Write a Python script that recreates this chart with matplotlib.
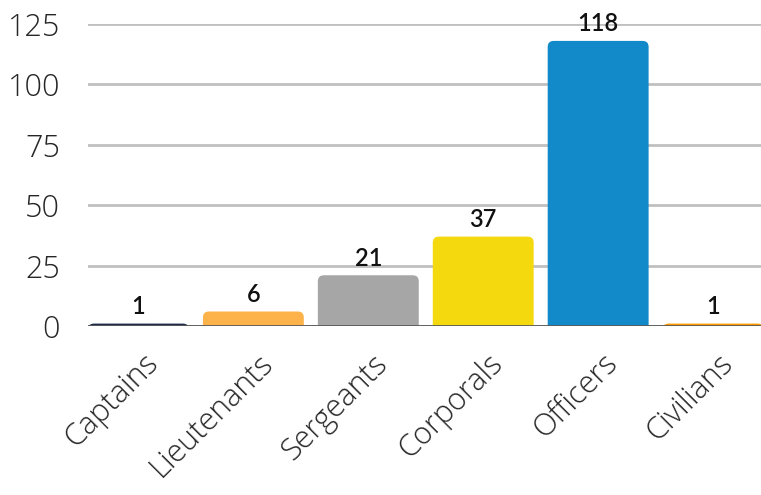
import matplotlib.pyplot as plt
import matplotlib.transforms as mtransforms
from matplotlib.patches import FancyBboxPatch
import numpy as np

categories = ["Captains", "Lieutenants", "Sergeants", "Corporals", "Officers", "Civilians"]
counts = [1, 6, 21, 37, 118, 1]
colors = ["#1f2d4a", "#fdb24a", "#a6a6a6", "#f5d90f", "#1289c9", "#ff9a00"]

fig = plt.figure(figsize=(7.61, 4.95), dpi=100)
ax = fig.add_axes([88 / 761, 1 - 326 / 495, 1 - 88 / 761, (326 - 24) / 495])

x = np.arange(len(categories))
bars = ax.bar(x, counts, width=0.878, color=colors, zorder=3)

ax.set_ylim(0, 125)
ax.set_xlim(-0.439, 5.417)

# swap the plain bars for ones with rounded tops
r_x = 6 / 115
r_y = 6 * 125 / 302
for rect, c in zip(bars, colors):
    rect.set_visible(False)
    p = FancyBboxPatch((rect.get_x(), -r_y * 2), rect.get_width(), rect.get_height() + r_y * 2,
                       boxstyle=f"round,pad=0,rounding_size={r_x}",
                       mutation_aspect=r_y / r_x, facecolor=c, edgecolor="none", zorder=3)
    ax.add_patch(p)

ax.set_yticks([0, 25, 50, 75, 100, 125])
ax.yaxis.grid(True, color="#c0c0c0", linewidth=2, zorder=0)
ax.axhline(0, color="#595959", linewidth=2, zorder=4)
for s in ax.spines.values():
    s.set_visible(False)
ax.tick_params(length=0)
ax.tick_params(axis="y", pad=20)

for lab in ax.get_yticklabels():
    lab.set_fontfamily("Open Sans")
    lab.set_fontweight("light")
    lab.set_fontsize(22)
    lab.set_color("#262626")

ax.set_xticks(x)
ax.set_xticklabels(categories, rotation=45, ha="right", rotation_mode="anchor",
                   fontsize=22, fontfamily="Open Sans", fontweight="light", color="#262626")
offset = mtransforms.ScaledTranslation(4 / 100, -17 / 100, fig.dpi_scale_trans)
for lab in ax.get_xticklabels():
    lab.set_transform(lab.get_transform() + offset)

# value labels
for rect, v in zip(bars, counts):
    ax.annotate(str(v), (rect.get_x() + rect.get_width() / 2, v), xytext=(0, 4),
                textcoords="offset points", ha="center", va="bottom",
                fontsize=17, fontfamily="Lato", fontweight="semibold", color="#111111",
                zorder=5, annotation_clip=False)

fig.savefig("out.png", dpi=100)
